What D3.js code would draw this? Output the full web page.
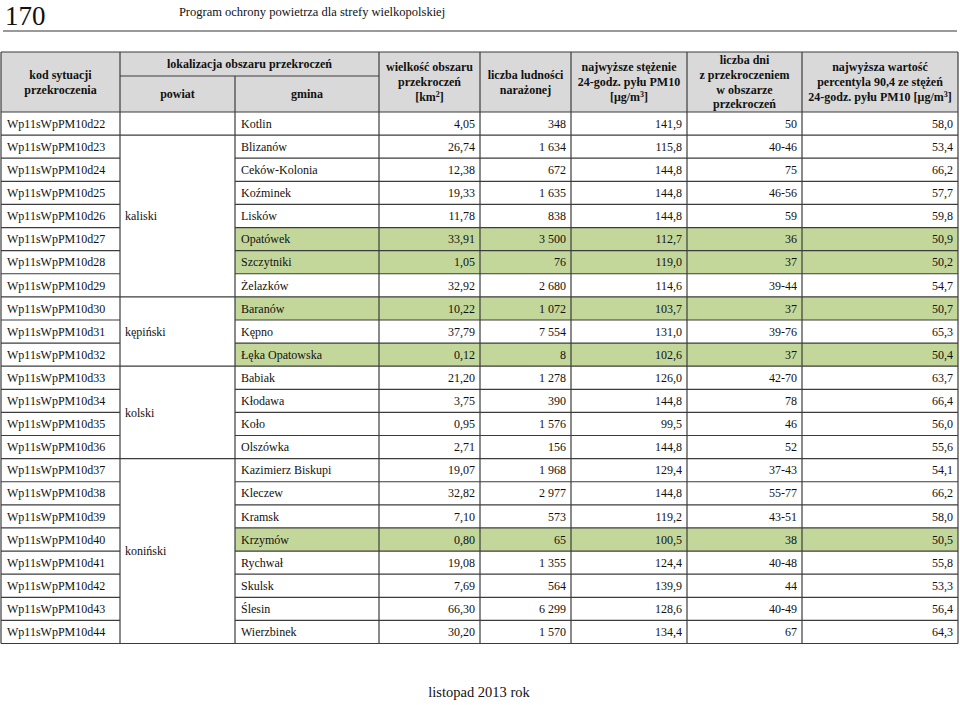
<!DOCTYPE html>
<html><head><meta charset="utf-8">
<script src="https://cdn.jsdelivr.net/npm/d3@7"></script>
<style>body{margin:0;background:#fff}svg{display:block}</style>
</head><body><svg id="c" width="960" height="705"></svg>
<script>
// ---- data ----
const pageNumber = "170";
const pageTitle = "Program ochrony powietrza dla strefy wielkopolskiej";
const footerText = "listopad 2013 rok";
const codes = ["Wp11sWpPM10d22","Wp11sWpPM10d23","Wp11sWpPM10d24","Wp11sWpPM10d25","Wp11sWpPM10d26","Wp11sWpPM10d27","Wp11sWpPM10d28","Wp11sWpPM10d29","Wp11sWpPM10d30","Wp11sWpPM10d31","Wp11sWpPM10d32","Wp11sWpPM10d33","Wp11sWpPM10d34","Wp11sWpPM10d35","Wp11sWpPM10d36","Wp11sWpPM10d37","Wp11sWpPM10d38","Wp11sWpPM10d39","Wp11sWpPM10d40","Wp11sWpPM10d41","Wp11sWpPM10d42","Wp11sWpPM10d43","Wp11sWpPM10d44"];
const powiatNames = ["", "kaliski", "kępiński", "kolski", "koniński"];
const powiatRowCounts = [1, 7, 3, 4, 8];
const gminy = ["Kotlin","Blizanów","Ceków-Kolonia","Koźminek","Lisków","Opatówek","Szczytniki","Żelazków","Baranów","Kępno","Łęka Opatowska","Babiak","Kłodawa","Koło","Olszówka","Kazimierz Biskupi","Kleczew","Kramsk","Krzymów","Rychwał","Skulsk","Ślesin","Wierzbinek"];
const areaKm2 = [4.05,26.74,12.38,19.33,11.78,33.91,1.05,32.92,10.22,37.79,0.12,21.20,3.75,0.95,2.71,19.07,32.82,7.10,0.80,19.08,7.69,66.30,30.20];
const population = [348,1634,672,1635,838,3500,76,2680,1072,7554,8,1278,390,1576,156,1968,2977,573,65,1355,564,6299,1570];
const maxConc24h = [141.9,115.8,144.8,144.8,144.8,112.7,119.0,114.6,103.7,131.0,102.6,126.0,144.8,99.5,144.8,129.4,144.8,119.2,100.5,124.4,139.9,128.6,134.4];
const daysExceeded = ["50","40-46","75","46-56","59","36","37","39-44","37","39-76","37","42-70","78","46","52","37-43","55-77","43-51","38","40-48","44","40-49","67"];
const percentile904 = [58.0,53.4,66.2,57.7,59.8,50.9,50.2,54.7,50.7,65.3,50.4,63.7,66.4,56.0,55.6,54.1,66.2,58.0,50.5,55.8,53.3,56.4,64.3];
const highlightedCodes = ["Wp11sWpPM10d27","Wp11sWpPM10d28","Wp11sWpPM10d30","Wp11sWpPM10d32","Wp11sWpPM10d40"];

// header labels (lines); superscripts marked with ^
const headerLabels = [
  ["kod sytuacji","przekroczenia"],
  null, null,
  ["wielkość obszaru","przekroczeń","[km^2]"],
  ["liczba ludności","narażonej"],
  ["najwyższe stężenie","24-godz. pyłu PM10","[μg/m^3]"],
  ["liczba dni","z przekroczeniem","w obszarze","przekroczeń"],
  ["najwyższa wartość","percentyla 90,4 ze stężeń","24-godz. pyłu PM10 [μg/m^3]"]
];
const groupLabel = "lokalizacja obszaru przekroczeń";
const subLabels = ["powiat","gmina"];

// ---- layout ----
const FONT = "'Liberation Serif','Times New Roman',serif";
const colEdges = [1, 120, 235, 379, 480, 571, 687, 802, 958];
const headerTop = 52, headerMid = 76, headerBottom = 112, tableBottom = 643.5;
const lineColor = "#3c3c3c", headerFill = "#d9d9d9", greenFill = "#c4d79b";

const pl = d3.formatLocale({decimal: ",", thousands: " ", grouping: [3], currency: ["", " zł"]});
const f2 = pl.format(",.2f"), f1 = pl.format(",.1f"), f0 = pl.format(",d");

const svg = d3.select("#c");
const y = d3.scaleBand().domain(codes).range([headerBottom, tableBottom]).padding(0);
const x = d3.scaleOrdinal().domain(d3.range(colEdges.length)).range(colEdges);

// page header
svg.append("text").attr("x", 5).attr("y", 25).attr("font-family", FONT).attr("font-size", 27).attr("fill", "#111").text(pageNumber);
svg.append("text").attr("x", 312).attr("y", 16).attr("text-anchor", "middle").attr("font-family", FONT).attr("font-size", 12.5).attr("fill", "#111").text(pageTitle);
svg.append("line").attr("x1", 3).attr("x2", 957).attr("y1", 31).attr("y2", 31).attr("stroke", "#9a9a9a").attr("stroke-width", 2);

// header background
svg.append("rect").attr("x", x(0)).attr("y", headerTop).attr("width", x(8) - x(0)).attr("height", headerBottom - headerTop).attr("fill", headerFill);

// green highlighted rows
svg.append("g").selectAll("rect").data(highlightedCodes).join("rect")
  .attr("x", x(2)).attr("y", d => y(d)).attr("width", x(8) - x(2)).attr("height", y.bandwidth()).attr("fill", greenFill);

function multiline(g, lines, cx, cy, lh, bold) {
  const n = lines.length;
  lines.forEach((ln, i) => {
    const t = g.append("text").attr("x", cx).attr("y", cy + (i - (n - 1) / 2) * lh + 4.2)
      .attr("text-anchor", "middle").attr("font-family", FONT).attr("font-size", 12)
      .attr("font-weight", bold ? "bold" : "normal").attr("fill", "#111");
    const parts = ln.split("^");
    t.append("tspan").text(parts[0]);
    if (parts.length > 1) {
      t.append("tspan").attr("dy", -4.5).attr("font-size", 8).text(parts[1][0]);
      t.append("tspan").attr("dy", 4.5).text(parts[1].slice(1));
    }
  });
}

const hg = svg.append("g");
headerLabels.forEach((lines, i) => {
  if (!lines) return;
  multiline(hg, lines, (x(i) + x(i + 1)) / 2, (headerTop + headerBottom) / 2, 14.8, true);
});
multiline(hg, [groupLabel], (x(1) + x(3)) / 2, (headerTop + headerMid) / 2, 14.8, true);
subLabels.forEach((s, i) => multiline(hg, [s], (x(1 + i) + x(2 + i)) / 2, (headerMid + headerBottom) / 2, 14.8, true));

// body text
const rows = codes.map((c, i) => ({code: c, gmina: gminy[i], area: areaKm2[i], pop: population[i], conc: maxConc24h[i], days: daysExceeded[i], perc: percentile904[i]}));
const bg = svg.append("g").attr("font-family", FONT).attr("font-size", 12).attr("fill", "#111");
const cellY = d => y(d.code) + y.bandwidth() / 2 + 4.2;
bg.selectAll(".code").data(rows).join("text").attr("x", x(0) + 6).attr("y", cellY).text(d => d.code);
bg.selectAll(".gm").data(rows).join("text").attr("x", x(2) + 6).attr("y", cellY).text(d => d.gmina);
const numCols = [[4, d => f2(d.area)], [5, d => f0(d.pop)], [6, d => f1(d.conc)], [7, d => d.days], [8, d => f1(d.perc)]];
numCols.forEach(([edge, fn]) => {
  bg.append("g").selectAll("text").data(rows).join("text")
    .attr("x", x(edge) - 5).attr("y", cellY).attr("text-anchor", "end").text(fn);
});

// powiat groups
let start = 0;
const groups = powiatNames.map((name, i) => {
  const g = {name, first: codes[start], last: codes[start + powiatRowCounts[i] - 1]};
  start += powiatRowCounts[i];
  return g;
});
bg.append("g").selectAll("text").data(groups).join("text")
  .attr("x", x(1) + 5)
  .attr("y", d => (y(d.first) + y(d.last) + y.bandwidth()) / 2 + 4.2)
  .text(d => d.name);

// grid lines
const lg = svg.append("g").attr("stroke", lineColor).attr("stroke-width", 1.2).attr("fill", "none");
// vertical lines
colEdges.forEach((cx, i) => {
  const top = (i === 2) ? headerMid : headerTop;
  lg.append("line").attr("x1", cx).attr("x2", cx).attr("y1", top).attr("y2", tableBottom);
});
// horizontal header lines
lg.append("line").attr("x1", x(0)).attr("x2", x(8)).attr("y1", headerTop).attr("y2", headerTop);
lg.append("line").attr("x1", x(1)).attr("x2", x(3)).attr("y1", headerMid).attr("y2", headerMid);
lg.append("line").attr("x1", x(0)).attr("x2", x(8)).attr("y1", headerBottom).attr("y2", headerBottom);
// row separators (skip powiat column inside groups)
const groupEnds = new Set(groups.map(g => g.last));
codes.forEach(c => {
  const yb = y(c) + y.bandwidth();
  lg.append("line").attr("x1", x(0)).attr("x2", x(1)).attr("y1", yb).attr("y2", yb);
  lg.append("line").attr("x1", x(2)).attr("x2", x(8)).attr("y1", yb).attr("y2", yb);
  if (groupEnds.has(c)) lg.append("line").attr("x1", x(1)).attr("x2", x(2)).attr("y1", yb).attr("y2", yb);
});

// footer
svg.append("text").attr("x", 479).attr("y", 697).attr("text-anchor", "middle").attr("font-family", FONT).attr("font-size", 14.5).attr("fill", "#111").text(footerText);
</script>
</body></html>
